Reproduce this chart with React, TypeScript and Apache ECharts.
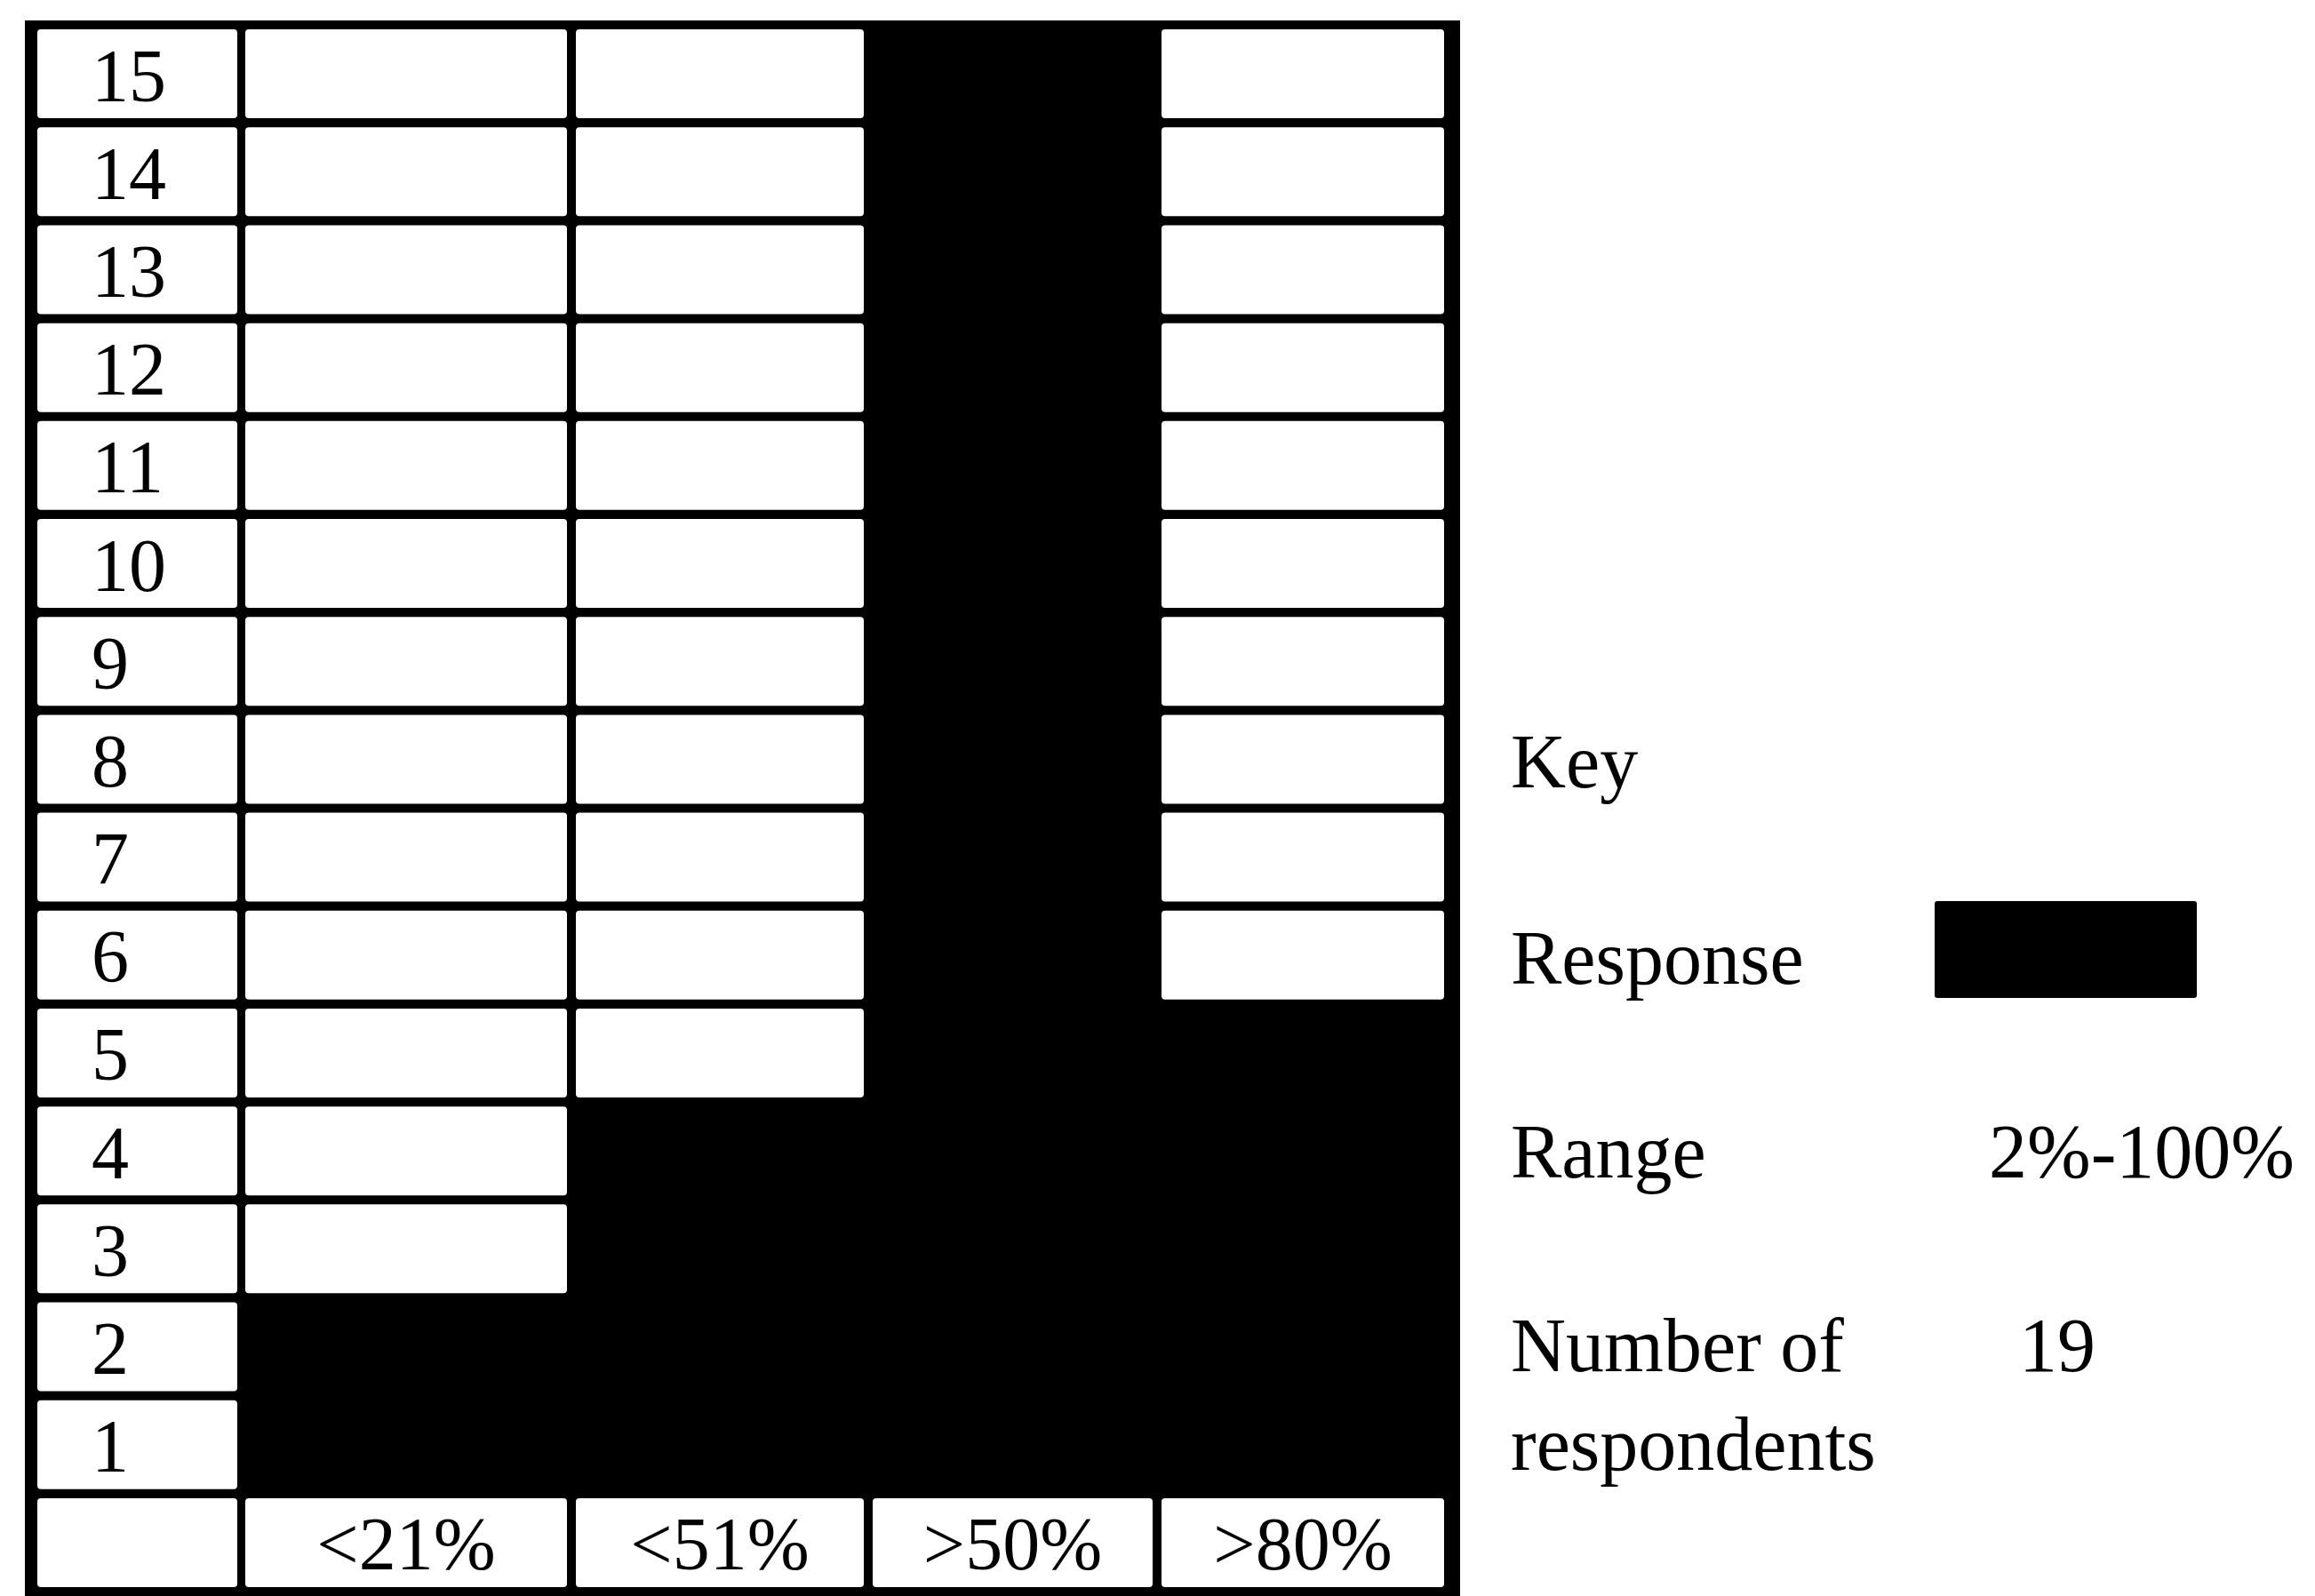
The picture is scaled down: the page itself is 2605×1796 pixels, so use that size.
import React, { useEffect, useRef } from 'react';
import * as echarts from 'echarts';

// ---- data ----
const columnLabels = ['<21%', '<51%', '>50%', '>80%'];
const rowLabels = ['1', '2', '3', '4', '5', '6', '7', '8', '9', '10', '11', '12', '13', '14', '15'];
// number of rows (counted from row 1 upward) that are shaded as "Response" in each column
const responseRows = [2, 4, 15, 5];
const keyTitle = 'Key';
const responseLabel = 'Response';
const rangeLabel = 'Range';
const rangeValue = '2%-100%';
const respondentsLabel = ['Number of', 'respondents'];
const respondentsValue = '19';

// ---- layout ----
const W = 2605;
const H = 1796;
const GRID = { left: 33, top: 28, width: 1605, height: 1763 };
const X_MAX = 1605;
// label column first, then one span per data column (x axis units)
const colSpans = [
  [9, 234],
  [243, 605],
  [615, 939],
  [949, 1264],
  [1274, 1592],
];
const CELL_RATIO = 100 / 110.2;
const TABLE_FONT = '84px "Liberation Serif", "Times New Roman", serif';
const KEY_FONT = '86px "Liberation Serif", "Times New Roman", serif';

export default function App() {
  const ref = useRef<HTMLDivElement>(null);

  useEffect(() => {
    const chart = echarts.init(ref.current as HTMLDivElement, null, { renderer: 'svg' });

    const cells: number[][] = [];
    for (let r = 0; r <= rowLabels.length; r++) {
      for (let c = 0; c <= columnLabels.length; c++) {
        const filled = c > 0 && r > 0 && r <= responseRows[c - 1] ? 1 : 0;
        cells.push([c, r, filled]);
      }
    }

    const txt = (text: string, x: number, y: number, align = 'left') => ({
      type: 'text',
      silent: true,
      style: {
        text,
        x,
        y,
        font: KEY_FONT,
        fill: '#000',
        align,
        verticalAlign: 'middle',
        textAlign: align,
        textVerticalAlign: 'middle',
      },
    });

    chart.setOption({
      animation: false,
      backgroundColor: '#fff',
      grid: {
        ...GRID,
        show: true,
        backgroundColor: '#000',
        borderColor: '#000',
        borderWidth: 10,
      },
      xAxis: { type: 'value', min: 0, max: X_MAX, show: false },
      yAxis: { type: 'category', data: ['', ...rowLabels], show: false },
      series: [
        {
          type: 'custom',
          encode: { x: 0, y: 1 },
          clip: false,
          data: cells,
          renderItem: (params: any, api: any) => {
            const c = api.value(0) as number;
            const r = api.value(1) as number;
            const filled = api.value(2) as number;
            const span = colSpans[c];
            const p0 = api.coord([span[0], r]);
            const p1 = api.coord([span[1], r]);
            const band = api.size([0, 1])[1];
            if (filled) {
              return {
                type: 'rect',
                shape: { x: p0[0] - 5, y: p0[1] - band / 2, width: p1[0] - p0[0] + 10, height: band },
                style: { fill: '#000' },
              };
            }
            const h = band * CELL_RATIO;
            const children: any[] = [
              {
                type: 'rect',
                shape: { x: p0[0], y: p0[1] - h / 2, width: p1[0] - p0[0], height: h, r: 4 },
                style: { fill: '#fff' },
              },
            ];
            let text = '';
            let align = 'center';
            let tx = (p0[0] + p1[0]) / 2;
            if (c === 0 && r > 0) {
              text = rowLabels[r - 1];
              align = 'left';
              tx = p0[0] + 61;
            } else if (r === 0 && c > 0) {
              text = columnLabels[c - 1];
            }
            if (text) {
              children.push({
                type: 'text',
                style: {
                  text,
                  x: tx,
                  y: p0[1] + 2,
                  font: TABLE_FONT,
                  fill: '#000',
                  align,
                  verticalAlign: 'middle',
                  textAlign: align,
                  textVerticalAlign: 'middle',
                },
              });
            }
            return { type: 'group', children };
          },
        },
      ],
      graphic: [
        txt(keyTitle, 1700, 857),
        txt(responseLabel, 1700, 1078),
        {
          type: 'rect',
          silent: true,
          shape: { x: 2177, y: 1014, width: 295, height: 109, r: 3 },
          style: { fill: '#000' },
        },
        txt(rangeLabel, 1700, 1296),
        txt(rangeValue, 2238, 1296),
        txt(respondentsLabel[0], 1700, 1514),
        txt(respondentsValue, 2272, 1514),
        txt(respondentsLabel[1], 1700, 1625),
      ],
    });

    return () => {
      chart.dispose();
    };
  }, []);

  return (
    <div
      ref={ref}
      style={{ position: 'absolute', left: 0, top: 0, width: W, height: H }}
    />
  );
}
